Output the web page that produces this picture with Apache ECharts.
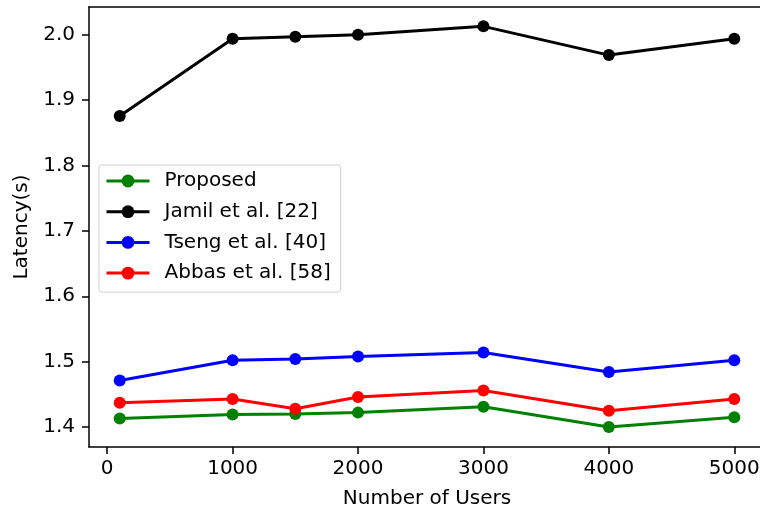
<!DOCTYPE html>
<html>
<head>
<meta charset="utf-8">
<script src="https://cdn.jsdelivr.net/npm/echarts@6/dist/echarts.min.js"></script>
<style>
  html, body { margin: 0; padding: 0; background: #fff; }
  #chart { width: 760px; height: 511px; }
</style>
</head>
<body>
<div id="chart"></div>
<script>
// data
const users = [100, 1000, 1500, 2000, 3000, 4000, 5000];
const proposed = [1.413, 1.419, 1.420, 1.422, 1.431, 1.400, 1.415];
const jamil = [1.876, 1.994, 1.997, 2.000, 2.013, 1.969, 1.994];
const tseng = [1.471, 1.502, 1.504, 1.508, 1.514, 1.484, 1.502];
const abbas = [1.437, 1.443, 1.428, 1.446, 1.456, 1.425, 1.443];
const xTicks = [0, 1000, 2000, 3000, 4000, 5000];
const yTicks = [1.4, 1.5, 1.6, 1.7, 1.8, 1.9, 2.0];

const font = 'DejaVu Sans';
const fs = 20;

function pairs(vals) {
  return users.map((u, i) => [u, vals[i]]);
}

function line(name, color, vals) {
  return {
    name: name,
    type: 'line',
    data: pairs(vals),
    symbol: 'circle',
    symbolSize: 12,
    color: color,
    lineStyle: { width: 3, color: color },
    itemStyle: { color: color },
    emphasis: { disabled: true },
    animation: false
  };
}

const spine = { color: '#000', width: 1.5 };

const chart = echarts.init(document.getElementById('chart'));
const option = {
  backgroundColor: '#fff',
  textStyle: { fontFamily: font },
  grid: {
    left: 89, top: 7, width: 676, height: 440,
    outerBoundsMode: 'none', containLabel: false
  },
  legend: {
    orient: 'vertical',
    left: 99, top: 165,
    padding: [5, 10, 8, 6],
    itemWidth: 43, itemHeight: 16, itemGap: 8.7,
    lineStyle: { width: 3 },
    borderColor: '#d0d0d0', borderWidth: 1, borderRadius: 3,
    backgroundColor: 'rgba(255,255,255,0.8)',
    textStyle: { fontFamily: font, fontSize: fs, color: '#000', lineHeight: 22, padding: [0, 0, 0, 10] },
    data: ['Proposed', 'Jamil et al. [22]', 'Tseng et al. [40]', 'Abbas et al. [58]']
  },
  xAxis: [{
    type: 'value',
    min: -145, max: 5245,
    name: 'Number of Users',
    nameLocation: 'middle', nameGap: 42,
    nameTextStyle: { fontFamily: font, fontSize: fs, color: '#000' },
    axisLine: { onZero: false, lineStyle: spine },
    axisTick: { show: true, length: 7, lineStyle: spine, customValues: xTicks },
    axisLabel: {
      fontFamily: font, fontSize: fs, color: '#000', margin: 12, customValues: xTicks,
      formatter: v => String(v)
    },
    splitLine: { show: false }
  }, {
    // top spine only
    type: 'value', position: 'top',
    min: -145, max: 5245,
    axisLine: { show: true, onZero: false, lineStyle: spine },
    axisTick: { show: false },
    axisLabel: { show: false },
    splitLine: { show: false }
  }],
  yAxis: {
    type: 'value',
    min: 1.3694, max: 2.0426,
    name: 'Latency(s)',
    nameLocation: 'middle', nameGap: 54,
    nameTextStyle: { fontFamily: font, fontSize: fs, color: '#000' },
    axisLine: { show: true, onZero: false, lineStyle: spine },
    axisTick: { show: true, length: 7, lineStyle: spine, customValues: yTicks },
    axisLabel: {
      fontFamily: font, fontSize: fs, color: '#000', margin: 14, customValues: yTicks,
      formatter: v => v.toFixed(1)
    },
    splitLine: { show: false }
  },
  series: [
    line('Proposed', '#008000', proposed),
    line('Jamil et al. [22]', '#000000', jamil),
    line('Tseng et al. [40]', '#0000ff', tseng),
    line('Abbas et al. [58]', '#ff0000', abbas)
  ]
};
chart.setOption(option);
</script>
</body>
</html>
